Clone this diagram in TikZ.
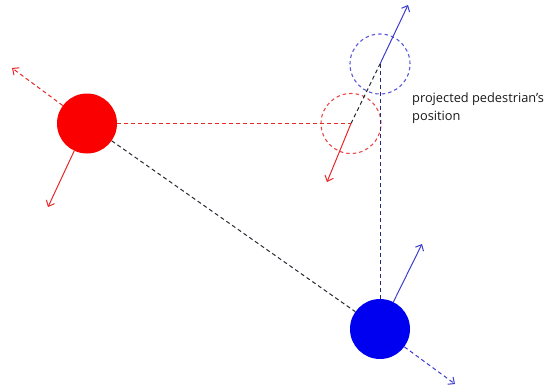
\documentclass[tikz,border=0pt]{standalone}
\usepackage{fontspec}
\setmainfont{Open Sans}
\usetikzlibrary{arrows.meta}
\definecolor{redfill}{RGB}{250,0,0}
\definecolor{bluefill}{RGB}{0,0,240}
\definecolor{redline}{RGB}{230,40,40}
\definecolor{blueline}{RGB}{60,60,210}
\definecolor{navyline}{RGB}{40,40,120}
\definecolor{darkline}{RGB}{40,40,50}
\definecolor{txt}{RGB}{25,25,25}
\begin{document}
\begin{tikzpicture}[x=1pt,y=-1pt,
  agent/.style={circle,minimum size=60pt,inner sep=0pt,draw=none},
  ghost/.style={circle,minimum size=60pt,inner sep=0pt,draw,dash pattern=on 3.5pt off 3pt,line width=1.1pt},
  dsh/.style={dash pattern=on 4pt off 3pt,line width=1pt},
  vec/.style={line width=1pt,-{Straight Barb[length=5pt,width=9pt]}},
  lbl/.style={font=\fontsize{12.8}{18}\selectfont,text=txt,align=left,inner sep=0pt}
]
\useasboundingbox (0,0) rectangle (554,388);
\node[agent,fill=redfill] (r) at (87,123.5) {};
\node[agent,fill=bluefill] (b) at (380,329) {};
\node[ghost,draw=redline!85] (pr) at (351,123.5) {};
\node[ghost,draw=blueline!85] (pb) at (380,64) {};
\coordinate (rv) at (48,207);
\coordinate (rd) at (12,68);
\coordinate (bv) at (422,244);
\coordinate (bd) at (455,384);
\coordinate (prv) at (327,182);
\coordinate (pbv) at (408,5);
% connectors
\draw[redline,dsh,line width=1.3pt] (r) -- (pr.center);
\draw[darkline,dsh] (r) -- (b);
\draw[navyline,dsh] (b) -- (pb.center);
\draw[darkline,dsh] (pr.center) -- (pb.center);
% velocity vectors
\draw[vec,redline] (r) -- (rv);
\draw[vec,dsh,redline] (r) -- (rd);
\draw[vec,blueline] (b) -- (bv);
\draw[vec,dsh,blueline] (b) -- (bd);
\draw[vec,redline] (pr.center) -- (prv);
\draw[vec,blueline] (pb.center) -- (pbv);
\node[lbl,anchor=north west] (t) at (412,92.5) {projected pedestrian's\\position};
\end{tikzpicture}
\end{document}
